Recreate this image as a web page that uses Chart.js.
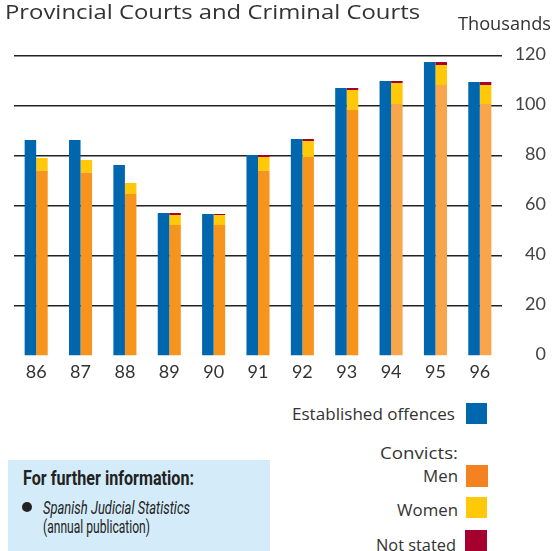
<!DOCTYPE html>
<html>
<head>
<meta charset="utf-8">
<script src="https://cdn.jsdelivr.net/npm/chart.js@4/dist/chart.umd.min.js"></script>
<style>
  html, body { margin: 0; padding: 0; background: #fff; }
  #wrap { position: relative; width: 553px; height: 551px; overflow: hidden; font-family: "Open Sans", sans-serif; color: #333; }
  #chart { position: absolute; left: 0; top: 0; }
  .t { position: absolute; white-space: nowrap; line-height: 1; transform-origin: left top; }
  .sw { position: absolute; width: 21px; height: 21px; }
  .info { position: absolute; left: 8px; top: 460px; width: 262px; height: 91px; background: #d4ecf9;
          font-family: Roboto, sans-serif; color: #222; }
  .info .dot { position: absolute; left: 14px; top: 42px; width: 10px; height: 10px; border-radius: 50%; background: #222; }
</style>
</head>
<body>
<div id="wrap">
  <canvas id="chart" width="553" height="386"></canvas>
  <div class="t" style="left:5px;top:2px;font-size:20px" data-w="415">Provincial Courts and Criminal Courts</div>
  <div class="t" style="left:458px;top:14px;font-size:18px" data-w="93">Thousands</div>

  <div class="t" style="left:292px;top:405px;font-size:17px" data-w="163">Established offences</div>
  <div class="sw" style="left:466px;top:403px;background:#0066ad"></div>
  <div class="t" style="left:380px;top:444px;font-size:17px" data-w="78">Convicts:</div>
  <div class="t" style="left:423px;top:467px;font-size:17px" data-w="35">Men</div>
  <div class="sw" style="left:466px;top:465px;width:22px;height:22px;background:#f58220"></div>
  <div class="t" style="left:397px;top:501px;font-size:17px" data-w="61">Women</div>
  <div class="sw" style="left:466px;top:497px;background:#ffc90a"></div>
  <div class="t" style="left:376px;top:536px;font-size:17px" data-w="80">Not stated</div>
  <div class="sw" style="left:465px;top:530px;width:22px;background:#a6002f"></div>

  <div class="info">
    <div class="t" style="left:15px;top:8px;font-size:21px;font-weight:bold" data-w="171">For further information:</div>
    <div class="dot"></div>
    <div class="t" style="left:35px;top:39px;font-size:18px;font-style:italic" data-w="147">Spanish Judicial Statistics</div>
    <div class="t" style="left:35px;top:58px;font-size:18px" data-w="107">(annual publication)</div>
  </div>
</div>
<script>
// years (1986-1996), values in thousands
const years = ['86', '87', '88', '89', '90', '91', '92', '93', '94', '95', '96'];
const established = [86.4, 86.4, 76.4, 57.2, 56.8, 80.4, 86.8, 107.2, 110.0, 117.6, 109.6];
const men = [74.1, 73.3, 64.8, 52.4, 52.4, 74.1, 79.6, 98.4, 100.8, 108.4, 100.8];
const women = [5.1, 5.1, 4.4, 4.0, 4.0, 5.5, 6.4, 8.0, 8.4, 8.0, 7.6];
const notStated = [0, 0, 0, 0.8, 0.4, 0.8, 0.8, 0.8, 0.8, 1.2, 1.2];
const yTicks = [0, 20, 40, 60, 80, 100, 120];

// squeeze the overlay texts to the widths they have in the printed chart
document.querySelectorAll('[data-w]').forEach(el => {
  const w = el.getBoundingClientRect().width;
  el.style.transform = 'scaleX(' + (Number(el.dataset.w) / w) + ')';
});

// last three years are printed in a lighter orange
const menColors = years.map((y, i) => i >= 8 ? '#f8a54c' : '#f7941d');

const ctx = document.getElementById('chart');
new Chart(ctx, {
  type: 'bar',
  data: {
    labels: years,
    datasets: [
      { label: 'Established offences', data: established, backgroundColor: '#0066ad', stack: 'est' },
      { label: 'Men', data: men, backgroundColor: menColors, stack: 'conv' },
      { label: 'Women', data: women, backgroundColor: '#ffc90a', stack: 'conv' },
      { label: 'Not stated', data: notStated, backgroundColor: '#a6002f', stack: 'conv' }
    ]
  },
  options: {
    responsive: false,
    animation: false,
    layout: { padding: { left: 14, right: 7, top: 56, bottom: 0 } },
    datasets: { bar: { categoryPercentage: 0.52, barPercentage: 1, borderWidth: 0 } },
    plugins: { legend: { display: false }, tooltip: { enabled: false } },
    scales: {
      x: {
        stacked: true,
        grid: { display: false, drawTicks: false },
        border: { display: false },
        ticks: { color: '#333', font: { family: 'Lato', size: 18 }, padding: 5 },
        afterFit: s => { s.height = 30; }
      },
      y: {
        position: 'right',
        stacked: true,
        min: 0,
        max: 120,
        afterBuildTicks: s => { s.ticks = yTicks.map(v => ({ value: v })); },
        grid: {
          drawTicks: false,
          lineWidth: 1.5,
          color: c => c.tick && c.tick.value === 0 ? 'rgba(0,0,0,0)' : '#222'
        },
        border: { display: false },
        ticks: { color: '#444', font: { family: 'Lato', size: 18 }, crossAlign: 'far', padding: 0, labelOffset: -2 },
        afterFit: s => { s.width = 44; }
      }
    }
  }
});
</script>
</body>
</html>
